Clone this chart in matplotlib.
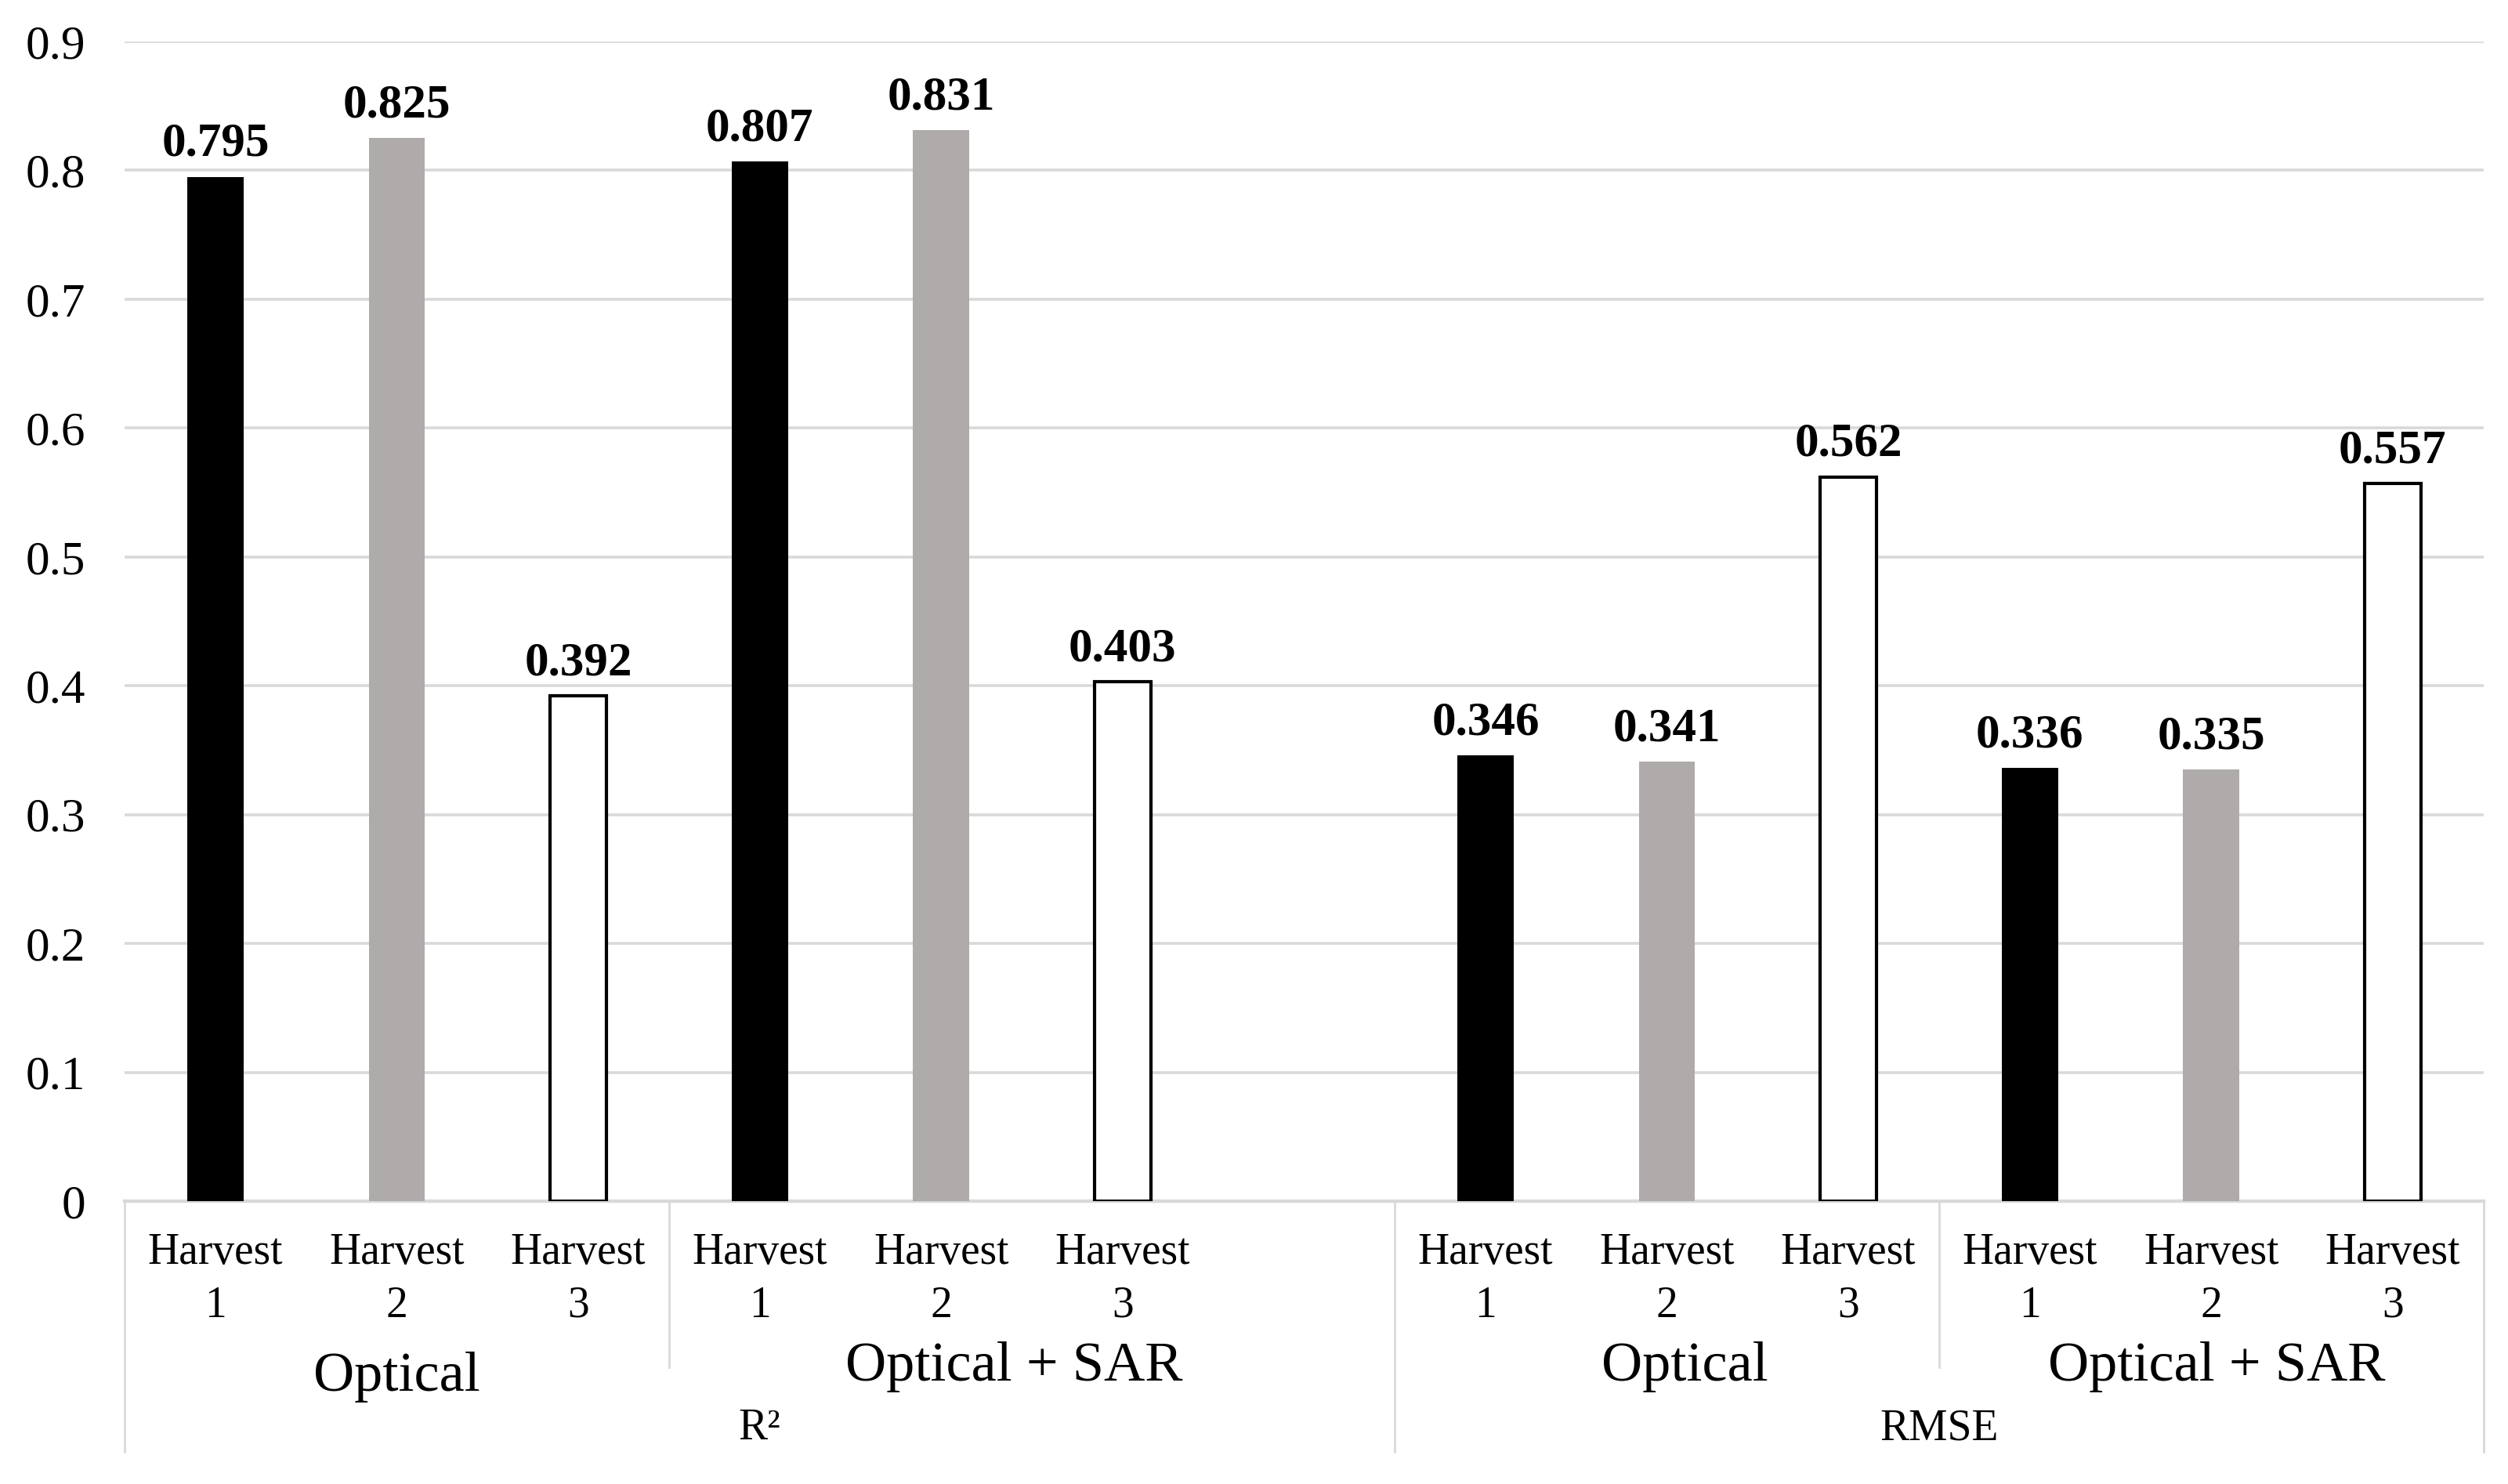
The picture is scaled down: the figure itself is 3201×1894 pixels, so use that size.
import matplotlib
matplotlib.use("Agg")
import matplotlib.pyplot as plt
from matplotlib.transforms import blended_transform_factory

plt.rcParams['font.family'] = ['Liberation Serif', 'DejaVu Serif']

# data
metrics = ['R²', 'RMSE']
sources = ['Optical', 'Optical + SAR']
harvests = ['1', '2', '3']
r2_optical = [0.795, 0.825, 0.392]
r2_fused = [0.807, 0.831, 0.403]
rmse_optical = [0.346, 0.341, 0.562]
rmse_fused = [0.336, 0.335, 0.557]

yticks = [0, 0.1, 0.2, 0.3, 0.4, 0.5, 0.6, 0.7, 0.8, 0.9]
ytick_labels = ['0', '0.1', '0.2', '0.3', '0.4', '0.5', '0.6', '0.7', '0.8', '0.9']

colors = ['black', '#AFABAB', 'white']
edges = ['black', '#AFABAB', 'black']

# slot positions: R2 group uses slots 0-6 (slot 6 empty), RMSE slots 7-12
series = [r2_optical, r2_fused, rmse_optical, rmse_fused]
starts = [0, 3, 7, 10]

fig = plt.figure(figsize=(16.005, 9.47), dpi=200)
ax = fig.add_axes([0.0497, 0.1906, 0.9405, 0.7814])

for vals, s in zip(series, starts):
    for j, v in enumerate(vals):
        x = s + j
        ax.bar(x, v, width=0.31, color=colors[j], edgecolor=edges[j],
               linewidth=1.5 if j == 2 else 0, zorder=3)
        ax.annotate(f'{v:.3f}', (x, v), xytext=(0, 5), textcoords='offset points',
                    ha='center', va='bottom', fontsize=22, fontweight='bold')

ax.set_xlim(-0.5, 12.5)
ax.set_ylim(0, 0.9)
ax.set_yticks(yticks)
ax.set_yticklabels(ytick_labels, fontsize=22)
ax.set_xticks([])
ax.tick_params(axis='y', length=0, pad=18)
ax.yaxis.grid(True, color='#D9D9D9', linewidth=1.3, zorder=0)
ax.set_axisbelow(True)
for sp in ['top', 'right', 'left']:
    ax.spines[sp].set_visible(False)
ax.spines['bottom'].set_color('#D9D9D9')
ax.spines['bottom'].set_linewidth(1.6)

trans = blended_transform_factory(ax.transData, fig.transFigure)

# category labels
for s in starts:
    for j, h in enumerate(harvests):
        ax.text(s + j, 0.156, 'Harvest', transform=trans, ha='center', va='center', fontsize=20)
        ax.text(s + j, 0.120, h, transform=trans, ha='center', va='center', fontsize=20)

source_x = [1.0, 4.4, 8.1, 11.03]
source_y = [0.0630, 0.0695, 0.0695, 0.0695]
for k, x in enumerate(source_x):
    ax.text(x, source_y[k], sources[k % 2], transform=trans, ha='center', va='baseline', fontsize=26)

ax.text(3.0, 0.030, metrics[0], transform=trans, ha='center', va='baseline', fontsize=20)
ax.text(9.5, 0.030, metrics[1], transform=trans, ha='center', va='baseline', fontsize=20)

# separator lines
for x in [2.5, 9.5]:
    ax.plot([x, x], [0.1906, 0.0787], transform=trans, color='#D9D9D9', lw=1.0, clip_on=False)
for x in [-0.5, 6.5, 12.5]:
    ax.plot([x, x], [0.1906, 0.0216], transform=trans, color='#D9D9D9', lw=1.0, clip_on=False)

fig.savefig('out.png', dpi=200)
